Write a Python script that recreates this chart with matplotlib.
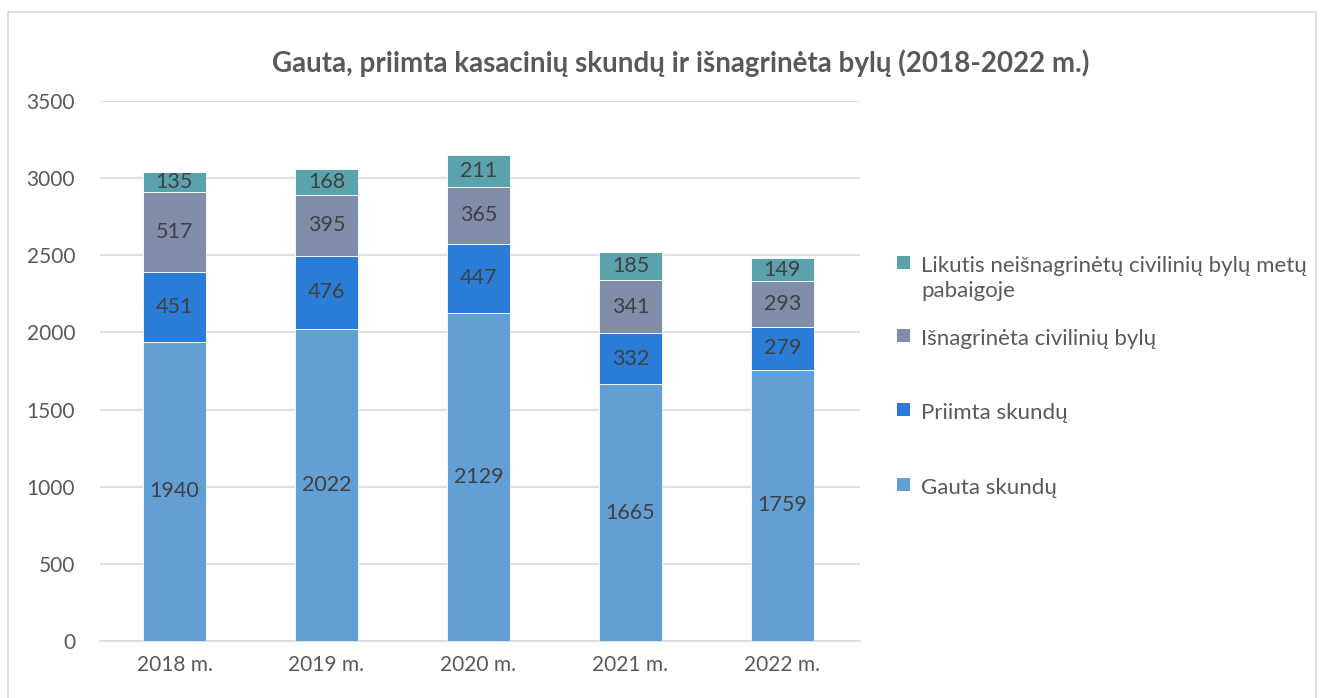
import matplotlib
matplotlib.use("Agg")
import matplotlib.pyplot as plt
from matplotlib.patches import Rectangle

categories = ["2018 m.", "2019 m.", "2020 m.", "2021 m.", "2022 m."]
gauta = [1940, 2022, 2129, 1665, 1759]
priimta = [451, 476, 447, 332, 279]
isnagrineta = [517, 395, 365, 341, 293]
likutis = [135, 168, 211, 185, 149]
series_names = ["Gauta skundų", "Priimta skundų", "Išnagrinėta civilinių bylų",
                "Likutis neišnagrinėtų civilinių bylų metų\npabaigoje"]
yticks = [0, 500, 1000, 1500, 2000, 2500, 3000, 3500]

colors = ["#629FD4", "#2A7CD6", "#7F8DA8", "#5AA3AD"]
txt = "#404040"
tick_c = "#595959"
font = "Lato"
plt.rcParams['font.family'] = [font, 'DejaVu Sans']

W, H = 1322, 698
fig = plt.figure(figsize=(W / 100, H / 100), dpi=100)
ax = fig.add_axes([100 / W, 1 - 641 / H, 760 / W, 540 / H])

# outer chart border
fig.patches.append(Rectangle((8 / W, -0.05), (1316 - 8) / W, 1.05 - 12 / H,
                             transform=fig.transFigure, fill=False,
                             edgecolor="#D9D9D9", linewidth=1.2))

x = list(range(len(categories)))
bottoms = [0] * len(categories)
all_series = [gauta, priimta, isnagrineta, likutis]
for vals, c in zip(all_series, colors):
    bars = ax.bar(x, vals, width=0.41, bottom=bottoms, color=c,
                  edgecolor="white", linewidth=0.6, zorder=3)
    for b, v, bt in zip(bars, vals, bottoms):
        ax.text(b.get_x() + b.get_width() / 2, bt + v / 2, str(v),
                ha="center", va="center", fontsize=15.5, color=txt, zorder=4)
    bottoms = [bt + v for bt, v in zip(bottoms, vals)]

ax.set_xlim(-0.49, 4.51)
ax.set_ylim(0, 3500)
ax.set_yticks(yticks)
ax.set_xticks(x)
ax.set_xticklabels(categories)
ax.yaxis.grid(True, color="#D9D9D9", linewidth=1.2, zorder=0)
ax.set_axisbelow(True)
for s in ["top", "right", "left"]:
    ax.spines[s].set_visible(False)
ax.spines["bottom"].set_color("#D9D9D9")
ax.spines["bottom"].set_linewidth(1.2)
ax.tick_params(axis="both", length=0, labelsize=15, colors=tick_c)
ax.tick_params(axis="y", pad=18)
ax.tick_params(axis="x", pad=10)

fig.text(681 / W, 1 - 63 / H,
         "Gauta, priimta kasacinių skundų ir išnagrinėta bylų (2018-2022 m.)",
         ha="center", va="center", fontsize=20, fontweight="bold", color=tick_c)

# legend (top to bottom: reversed series order)
leg_y = [263, 336, 410, 485]
for name, c, yy in zip(series_names[::-1], colors[::-1], leg_y):
    fig.patches.append(Rectangle((897 / W, 1 - (yy + 6) / H), 13 / W, 13 / H,
                                 transform=fig.transFigure, facecolor=c,
                                 edgecolor="none"))
    fig.text(921 / W, 1 - (yy - 7) / H, name, ha="left", va="top",
             fontsize=16, color=tick_c, linespacing=1.3)

fig.savefig("out.png", dpi=100)
